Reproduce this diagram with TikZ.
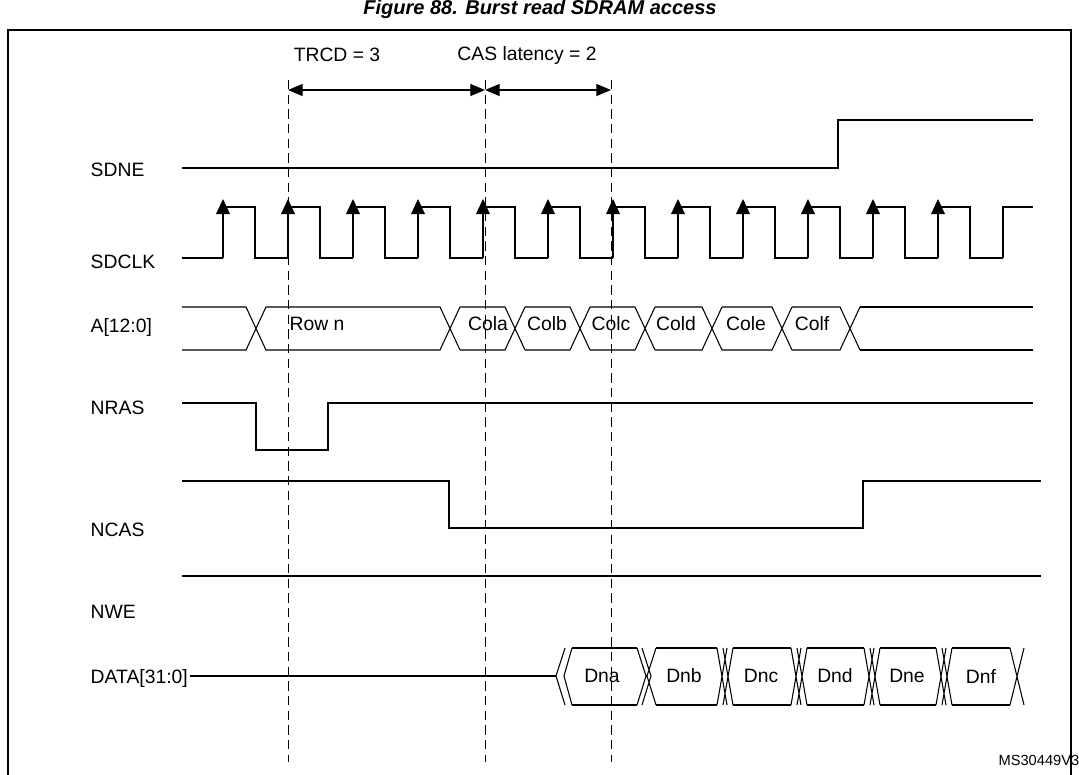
\documentclass[tikz,border=0pt]{standalone}
\usepackage{fontspec}
\setmainfont{Liberation Sans}
\usetikzlibrary{arrows.meta, positioning}

\begin{document}
\begin{tikzpicture}[x=0.75pt, y=-0.75pt,
    sig/.style={line width=0.8pt},
    tick/.style={dash pattern=on 7pt off 4pt, line width=0.6pt},
    signame/.style={anchor=west, font=\fontsize{14.5}{16}\selectfont},
    val/.style={font=\fontsize{14.5}{16}\selectfont},
    dim/.style={line width=0.9pt, {Triangle[length=11pt,width=9pt]}-{Triangle[length=11pt,width=9pt]}}
  ]
  \useasboundingbox (0,0) rectangle (1079,775);
  \begin{scope}
    \clip (0,0) rectangle (1079,775);
    \node[font=\bfseries\itshape\fontsize{15}{17}\selectfont] (title) at (540,9) {Figure 88. Burst read SDRAM access};
    \draw[line width=1.2pt] (8,30) rectangle (1071,800);
    \node[anchor=east, font=\fontsize{11}{13}\selectfont] (ms) at (1084,760) {MS30449V3};
  \end{scope}

  % signal names
  \node[signame] (sdne) at (86,170) {SDNE};
  \node[signame] (sdclk) at (86,262) {SDCLK};
  \node[signame] (addr) at (86,327) {A[12:0]};
  \node[signame] (nras) at (86,408) {NRAS};
  \node[signame] (ncas) at (86,530) {NCAS};
  \node[signame] (nwe) at (86,612) {NWE};
  \node[signame] (data) at (86,678) {DATA[31:0]};

  % timing markers
  \foreach \x/\n in {288/ma, 485/mb, 611/mc} {
    \coordinate (\n) at (\x,90);
    \draw[tick] (\x,80) -- (\x,762);
  }
  \draw[dim] (ma) -- (mb);
  \draw[dim] (mb) -- (mc);
  \node[val] (trcd) at (337,55) {TRCD = 3};
  \node[val] (cas) at (527,55) {CAS latency = 2};

  % SDNE
  \draw[sig] (182,168) -- (838,168) -- (838,120) -- (1033,120);

  % SDCLK
  \draw[sig] (182,258) -- (223,258);
  \foreach \k in {0,...,11} {
    \pgfmathsetmacro\r{223+65*\k}
    \pgfmathsetmacro\f{\r+32}
    \pgfmathsetmacro\n{\r+65}
    \draw[sig] (\r,258) -- (\r,207) -- (\f,207) -- (\f,258) -- (\n,258);
    \fill (\r,207) ++(-7,7) -- ++(7,-15) -- ++(7,15) -- cycle;
  }
  \draw[sig] (1003,258) -- (1003,207) -- (1033,207);

  % A[12:0]
  \draw[sig] (182,307) -- (246,307) -- (266,350) -- (440,350) -- (460,307)
    (182,350) -- (246,350) -- (266,307) -- (440,307) -- (460,350);
  \foreach \a/\b in {460/505, 525/570, 590/635, 655/702, 722/772, 792/840} {
    \draw[sig] (\a,307) -- (\b,307) -- ++(20,43) (\a,350) -- (\b,350) -- ++(20,-43);
  }
  \draw[sig] (860,307) -- (1033,307) (860,350) -- (1033,350);
  \foreach \x/\t in {317/Row n, 488/Cola, 547/Colb, 611/Colc, 676/Cold, 746/Cole, 812/Colf}
    \node[val] at (\x,324) {\t};

  % NRAS
  \draw[sig] (182,403) -- (256,403) -- (256,450) -- (328,450) -- (328,403) -- (1033,403);
  % NCAS
  \draw[sig] (182,481) -- (449,481) -- (449,528) -- (863,528) -- (863,481) -- (1041,481);
  % NWE
  \draw[sig] (182,576) -- (1041,576);

  % DATA[31:0]
  \draw[sig] (190,676) -- (556,676);
  \draw[sig] (565,648) -- (556,676) -- (565,705) (572,648) -- (564,676) -- (572,705);
  \draw[sig] (572,648) -- (637,648) (572,705) -- (637,705);
  \draw[sig] (637,648) -- (646,676) -- (637,705) (642,648) -- (651,676) -- (642,705)
    (656,648) -- (647,676) -- (656,705);
  \foreach \a/\b in {656/717, 733/791, 807/864, 880/936, 952/1010} {
    \draw[sig] (\a,648) -- (\b,648) (\a,705) -- (\b,705);
  }
  \foreach \c in {717, 791, 864, 936} {
    \draw[sig] (\c,648) -- ++(10,57) (\c,705) -- ++(10,-57)
      (\c+6,648) -- ++(10,57) (\c+6,705) -- ++(10,-57);
  }
  \draw[sig] (1010,648) -- (1024,705) (1010,705) -- (1024,648);
  \foreach \x/\t in {602/Dna, 684/Dnb, 761/Dnc, 835/Dnd, 907/Dne, 981/Dnf}
    \node[val] at (\x,676) {\t};
\end{tikzpicture}
\end{document}
